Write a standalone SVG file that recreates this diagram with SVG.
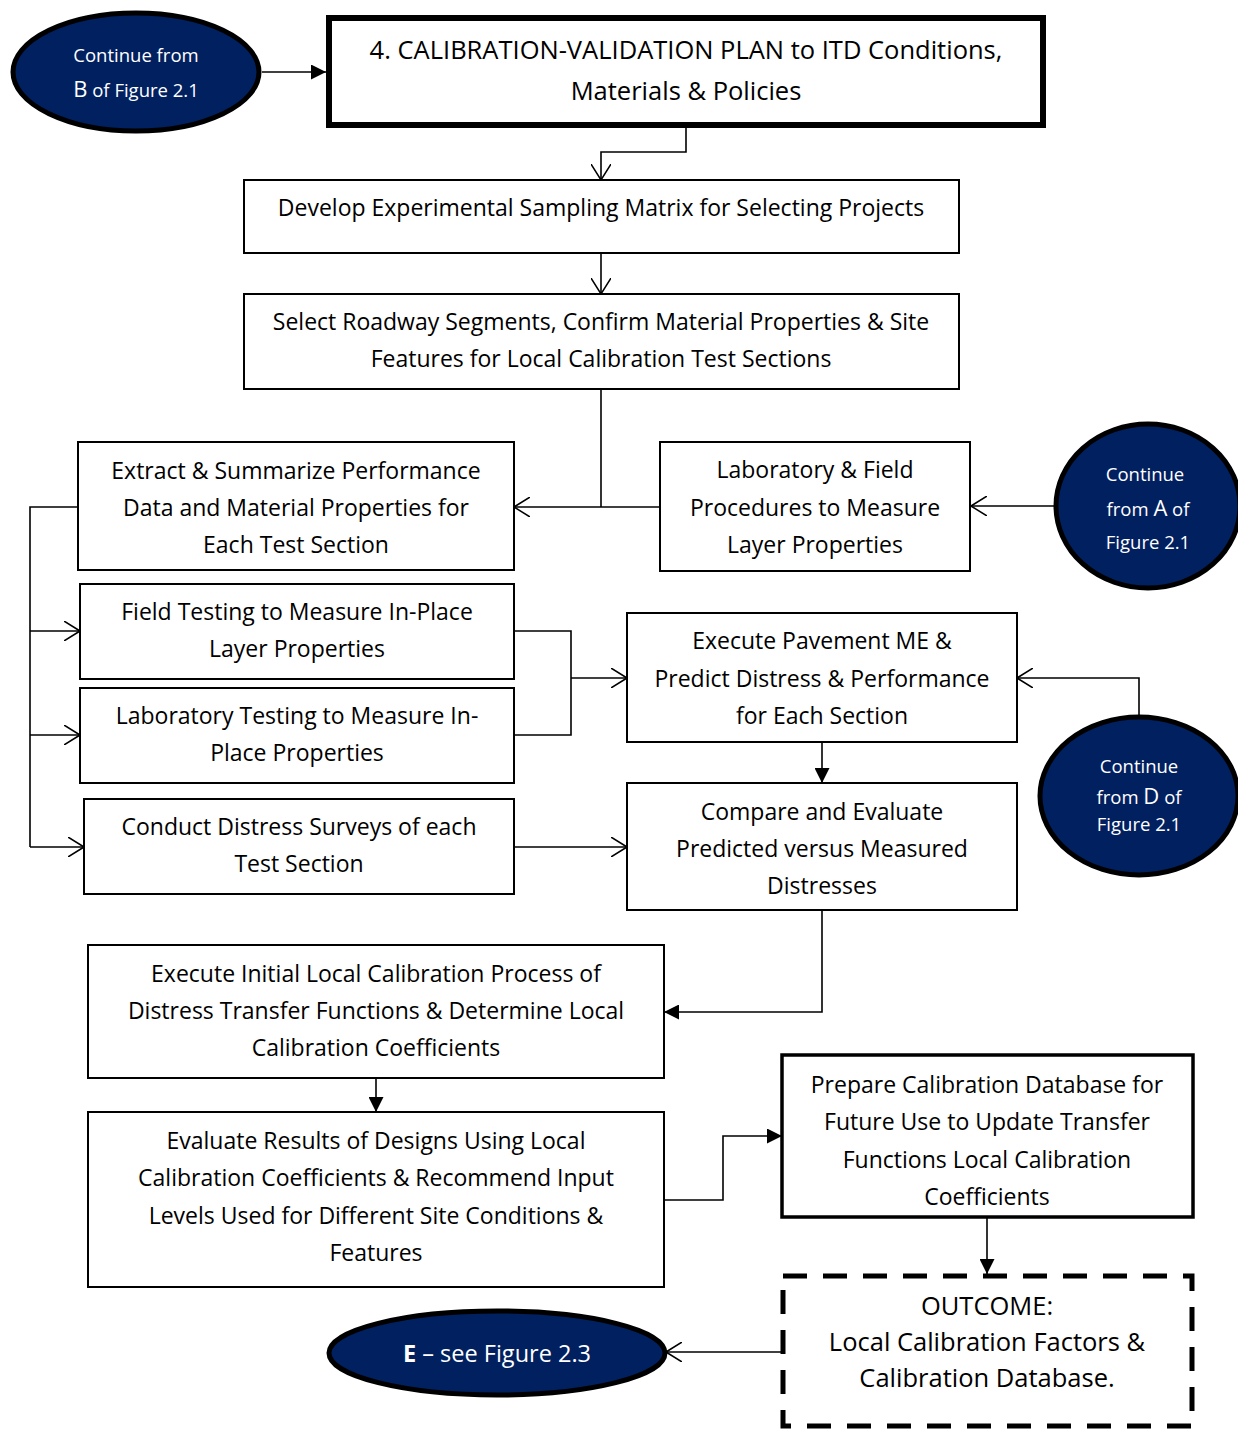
<svg xmlns="http://www.w3.org/2000/svg" width="1238" height="1431" viewBox="0 0 1238 1431">
<style>
.box{fill:#fff;stroke:#000;stroke-width:2}
.thick{fill:#fff;stroke:#000;stroke-width:6}
.med{fill:#fff;stroke:#000;stroke-width:3.5}
.dash{fill:#fff;stroke:#000;stroke-width:5;stroke-dasharray:24 16}
.oval{fill:#002060;stroke:#000;stroke-width:5}
.t{font-family:"Open Sans","Liberation Sans",sans-serif;font-size:23px;fill:#000;text-anchor:middle}
.w{font-family:"Open Sans","Liberation Sans",sans-serif;font-size:18.5px;fill:#fff;text-anchor:middle}
.big{font-size:25.5px}
.c{fill:none;stroke:#000;stroke-width:1.6}
</style>
<defs>
<marker id="open" markerUnits="userSpaceOnUse" viewBox="0 0 16 20" refX="16" refY="10" markerWidth="16" markerHeight="20" orient="auto">
<path d="M0,0 L16,10 L0,20" fill="none" stroke="#000" stroke-width="1.5"/>
</marker>
<marker id="fill" markerUnits="userSpaceOnUse" viewBox="0 0 15 15" refX="15" refY="7.5" markerWidth="15" markerHeight="15" orient="auto">
<path d="M0,0 L15,7.5 L0,15 Z" fill="#000"/>
</marker>
</defs>

<g id="connectors">
<path class="c" d="M262,72 L326,72" marker-end="url(#fill)"/>
<path class="c" d="M686,128 L686,152 L601,152 L601,180" marker-end="url(#open)"/>
<path class="c" d="M601,253 L601,294" marker-end="url(#open)"/>
<path class="c" d="M601,389 L601,507"/>
<path class="c" d="M660,507 L514,507" marker-end="url(#open)"/>
<path class="c" d="M1055,506 L971,506" marker-end="url(#open)"/>
<path class="c" d="M78,507 L30,507 L30,847"/>
<path class="c" d="M30,631 L80,631" marker-end="url(#open)"/>
<path class="c" d="M30,735 L80,735" marker-end="url(#open)"/>
<path class="c" d="M30,847 L84,847" marker-end="url(#open)"/>
<path class="c" d="M514,631 L571,631 L571,735 L514,735"/>
<path class="c" d="M571,678 L627,678" marker-end="url(#open)"/>
<path class="c" d="M1139,716 L1139,678 L1017,678" marker-end="url(#open)"/>
<path class="c" d="M822,742 L822,783" marker-end="url(#fill)"/>
<path class="c" d="M514,847 L627,847" marker-end="url(#open)"/>
<path class="c" d="M822,910 L822,1012 L664,1012" marker-end="url(#fill)"/>
<path class="c" d="M376,1078 L376,1112" marker-end="url(#fill)"/>
<path class="c" d="M664,1200 L723,1200 L723,1136 L782,1136" marker-end="url(#fill)"/>
<path class="c" d="M987,1217 L987,1274" marker-end="url(#fill)"/>
<path class="c" d="M782,1352 L666,1352" marker-end="url(#open)"/>
</g>

<g id="ovalB">
<ellipse class="oval" cx="136" cy="72" rx="123" ry="59"/>
<text class="w" x="136" y="62">Continue from</text>
<text class="w" x="136" y="97"><tspan style="font-size:22px">B</tspan> of Figure 2.1</text>
</g>

<g id="title">
<rect class="thick" x="329" y="18" width="714" height="107"/>
<text class="t big" x="686" y="59">4. CALIBRATION-VALIDATION PLAN to ITD Conditions,</text>
<text class="t big" x="686" y="100">Materials &amp; Policies</text>
</g>

<g id="develop">
<rect class="box" x="244" y="180" width="715" height="73"/>
<text class="t" x="601" y="216">Develop Experimental Sampling Matrix for Selecting Projects</text>
</g>

<g id="select">
<rect class="box" x="244" y="294" width="715" height="95"/>
<text class="t" x="601" y="330">Select Roadway Segments, Confirm Material Properties &amp; Site</text>
<text class="t" x="601" y="367">Features for Local Calibration Test Sections</text>
</g>

<g id="extract">
<rect class="box" x="78" y="442" width="436" height="128"/>
<text class="t" x="296" y="479">Extract &amp; Summarize Performance</text>
<text class="t" x="296" y="516">Data and Material Properties for</text>
<text class="t" x="296" y="553">Each Test Section</text>
</g>

<g id="labfield">
<rect class="box" x="660" y="442" width="310" height="129"/>
<text class="t" x="815" y="478">Laboratory &amp; Field</text>
<text class="t" x="815" y="516">Procedures to Measure</text>
<text class="t" x="815" y="553">Layer Properties</text>
</g>

<g id="ovalA">
<ellipse class="oval" cx="1148" cy="506" rx="92" ry="82"/>
<text class="w" x="1145" y="481">Continue</text>
<text class="w" x="1148" y="516">from <tspan style="font-size:22px">A</tspan> of</text>
<text class="w" x="1148" y="549">Figure 2.1</text>
</g>

<g id="fieldtest">
<rect class="box" x="80" y="584" width="434" height="95"/>
<text class="t" x="297" y="620">Field Testing to Measure In-Place</text>
<text class="t" x="297" y="657">Layer Properties</text>
</g>

<g id="labtest">
<rect class="box" x="80" y="688" width="434" height="95"/>
<text class="t" x="297" y="724">Laboratory Testing to Measure In-</text>
<text class="t" x="297" y="761">Place Properties</text>
</g>

<g id="conduct">
<rect class="box" x="84" y="799" width="430" height="95"/>
<text class="t" x="299" y="835">Conduct Distress Surveys of each</text>
<text class="t" x="299" y="872">Test Section</text>
</g>

<g id="execute">
<rect class="box" x="627" y="613" width="390" height="129"/>
<text class="t" x="822" y="649">Execute Pavement ME &amp;</text>
<text class="t" x="822" y="687">Predict Distress &amp; Performance</text>
<text class="t" x="822" y="724">for Each Section</text>
</g>

<g id="ovalD">
<ellipse class="oval" cx="1139" cy="796" rx="99" ry="79"/>
<text class="w" x="1139" y="773">Continue</text>
<text class="w" x="1139" y="804">from <tspan style="font-size:22px">D</tspan> of</text>
<text class="w" x="1139" y="831">Figure 2.1</text>
</g>

<g id="compare">
<rect class="box" x="627" y="783" width="390" height="127"/>
<text class="t" x="822" y="820">Compare and Evaluate</text>
<text class="t" x="822" y="857">Predicted versus Measured</text>
<text class="t" x="822" y="894">Distresses</text>
</g>

<g id="initial">
<rect class="box" x="88" y="945" width="576" height="133"/>
<text class="t" x="376" y="982">Execute Initial Local Calibration Process of</text>
<text class="t" x="376" y="1019">Distress Transfer Functions &amp; Determine Local</text>
<text class="t" x="376" y="1056">Calibration Coefficients</text>
</g>

<g id="evaluate">
<rect class="box" x="88" y="1112" width="576" height="175"/>
<text class="t" x="376" y="1149">Evaluate Results of Designs Using Local</text>
<text class="t" x="376" y="1186">Calibration Coefficients &amp; Recommend Input</text>
<text class="t" x="376" y="1224">Levels Used for Different Site Conditions &amp;</text>
<text class="t" x="376" y="1261">Features</text>
</g>

<g id="prepare">
<rect class="med" x="782" y="1055" width="411" height="162"/>
<text class="t" x="987" y="1093">Prepare Calibration Database for</text>
<text class="t" x="987" y="1130">Future Use to Update Transfer</text>
<text class="t" x="987" y="1168">Functions Local Calibration</text>
<text class="t" x="987" y="1205">Coefficients</text>
</g>

<g id="outcome">
<rect class="dash" x="783" y="1276" width="409" height="150"/>
<text class="t big" x="987" y="1315">OUTCOME:</text>
<text class="t big" x="987" y="1351">Local Calibration Factors &amp;</text>
<text class="t big" x="987" y="1387">Calibration Database.</text>
</g>

<g id="ovalE">
<ellipse class="oval" cx="497" cy="1353" rx="168" ry="42"/>
<text class="w" x="497" y="1362" style="font-size:23.5px"><tspan font-weight="bold">E</tspan> – see Figure 2.3</text>
</g>
</svg>
